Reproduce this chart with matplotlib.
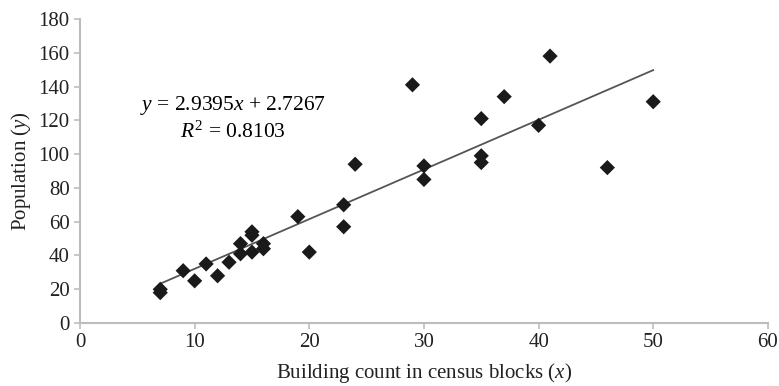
import numpy as np
import matplotlib.pyplot as plt

# Datos
buildings = [7, 7, 9, 10, 11, 12, 13, 14, 14, 15, 15, 15, 16, 16, 19, 20,
             23, 23, 24, 29, 30, 30, 35, 35, 35, 37, 40, 41, 46, 50]
population = [18, 20, 31, 25, 35, 28, 36, 41, 47, 42, 52, 54, 44, 47, 63, 42,
              70, 57, 94, 141, 93, 85, 121, 99, 95, 134, 117, 158, 92, 131]

slope = 2.9395
intercept = 2.7267
r2 = 0.8103

plt.rcParams['font.family'] = ['Liberation Serif', 'DejaVu Serif']
plt.rcParams['mathtext.fontset'] = 'custom'
plt.rcParams['mathtext.rm'] = 'Liberation Serif'
plt.rcParams['mathtext.it'] = 'Liberation Serif:italic'

fig = plt.figure(figsize=(7.79, 3.86), dpi=100)
ax = fig.add_axes([0.1027, 0.163, 0.883, 0.788])

# Línea de tendencia
x_fit = np.array([min(buildings), max(buildings)])
ax.plot(x_fit, slope * x_fit + intercept, color='#555555', lw=1.3, zorder=2)

ax.scatter(buildings, population, marker='D', s=60, color='#1a1a1a',
           edgecolors='none', zorder=3)

ax.text(13.3, 129, r'$y$ = 2.9395$x$ + 2.7267', ha='center', va='center',
        fontsize=15.5)
ax.text(13.3, 113, r'$R^2$ = 0.8103', ha='center', va='center', fontsize=15.5)

ax.set_xlim(0, 60)
ax.set_ylim(0, 180)
ax.set_xticks(range(0, 61, 10))
ax.set_yticks(range(0, 181, 20))

for s in ['top', 'right']:
    ax.spines[s].set_visible(False)
for s in ['left', 'bottom']:
    ax.spines[s].set_color('#bdbdbd')
    ax.spines[s].set_linewidth(1.5)
ax.tick_params(colors='#bdbdbd', labelcolor='#222222', labelsize=15,
               length=4, width=1.2)

ax.set_xlabel(r'Building count in census blocks ($x$)', fontsize=15,
              color='#222222', labelpad=6)
ax.set_ylabel(r'Population ($y$)', fontsize=15, color='#222222', labelpad=4)

fig.savefig('out.png', dpi=100)
